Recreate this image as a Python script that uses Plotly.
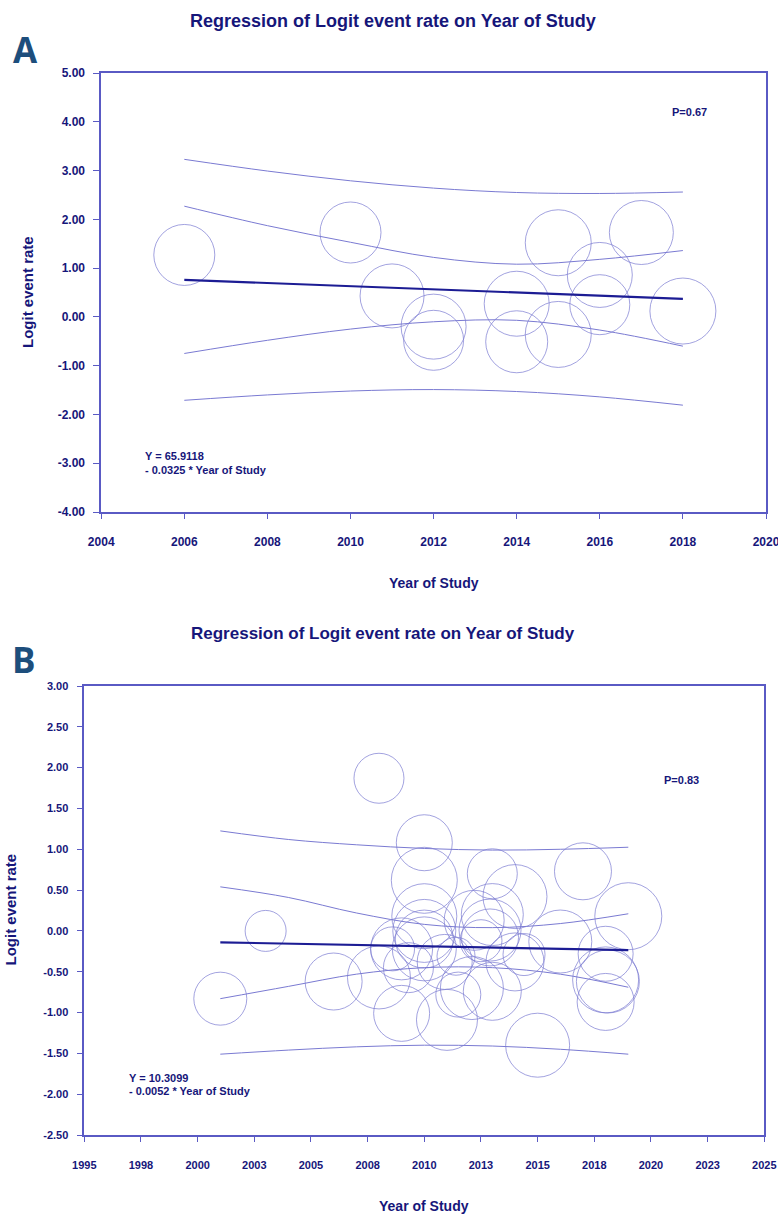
import plotly.graph_objects as go

# ---------------- Panel A data ----------------
years_A = [2006, 2010, 2011, 2012, 2012, 2014, 2014, 2015, 2015, 2016, 2016, 2017, 2018]
logit_A = [1.27, 1.73, 0.43, -0.20, -0.48, 0.27, -0.51, 1.52, -0.36, 0.86, 0.25, 1.73, 0.12]
size_A = [61, 61, 64, 65, 60, 65, 62, 66, 66, 65, 60, 64, 66]

fit_x_A = [2006, 2018]
fit_y_A = [0.76, 0.37]

ci_x_A = [2006, 2008, 2010, 2012, 2014, 2016, 2018]
outer_upper_A = [3.23, 2.99, 2.79, 2.64, 2.55, 2.53, 2.56]
inner_upper_A = [2.27, 1.87, 1.53, 1.22, 1.08, 1.18, 1.36]
inner_lower_A = [-0.75, -0.48, -0.25, -0.10, -0.07, -0.27, -0.60]
outer_lower_A = [-1.71, -1.60, -1.52, -1.49, -1.53, -1.64, -1.81]

xtick_vals_A = [2004, 2006, 2008, 2010, 2012, 2014, 2016, 2018, 2020]
xtick_text_A = ["2004", "2006", "2008", "2010", "2012", "2014", "2016", "2018", "2020"]
ytick_vals_A = [5, 4, 3, 2, 1, 0, -1, -2, -3, -4]
ytick_text_A = ["5.00", "4.00", "3.00", "2.00", "1.00", "0.00", "-1.00", "-2.00", "-3.00", "-4.00"]

# ---------------- Panel B data ----------------
years_B = [2001.0, 2003.0, 2006.0, 2008.0, 2008.0, 2008.6, 2009.0, 2009.0, 2009.3,
           2010.0, 2010.0, 2010.0, 2010.0, 2010.0, 2010.0, 2010.9, 2011.0, 2011.4,
           2011.5, 2012.1, 2012.2, 2012.5, 2012.9, 2012.9, 2013.0, 2013.0, 2013.0,
           2014.0, 2014.0, 2014.4, 2015.0, 2016.0, 2017.0, 2018.0, 2018.0, 2018.1,
           2018.0, 2019.0]
logit_B = [-0.83, 0.00, -0.62, 1.87, -0.57, -0.22, -0.22, -1.01, -0.45,
           1.08, 0.62, 0.18, 0.00, -0.22, -0.10, -0.38, -1.09, -0.31,
           -0.78, -0.70, 0.13, -0.12, 0.01, -0.08, 0.70, 0.20, -0.74,
           0.42, -0.38, -0.29, -1.40, -0.13, 0.73, -0.28, -0.60, -0.62,
           -0.87, 0.18]
size_B = [53, 41, 57, 50, 63, 44, 62, 56, 50,
          56, 66, 65, 63, 64, 58, 55, 61, 38,
          45, 63, 60, 42, 62, 57, 50, 62, 58,
          64, 58, 42, 64, 63, 57, 55, 66, 63,
          57, 67]

fit_x_B = [2001, 2019]
fit_y_B = [-0.14, -0.235]

ci_x_B = [2001, 2004, 2007, 2010, 2013, 2016, 2019]
outer_upper_B = [1.225, 1.12, 1.055, 1.01, 0.99, 1.00, 1.025]
inner_upper_B = [0.54, 0.41, 0.22, 0.08, 0.04, 0.09, 0.21]
inner_lower_B = [-0.83, -0.68, -0.53, -0.45, -0.45, -0.53, -0.69]
outer_lower_B = [-1.51, -1.46, -1.42, -1.40, -1.41, -1.45, -1.51]

xtick_vals_B = [1995, 1997.5, 2000, 2002.5, 2005, 2007.5, 2010, 2012.5, 2015, 2017.5, 2020, 2022.5, 2025]
xtick_text_B = ["1995", "1998", "2000", "2003", "2005", "2008", "2010", "2013", "2015", "2018", "2020", "2023", "2025"]
ytick_vals_B = [3, 2.5, 2, 1.5, 1, 0.5, 0, -0.5, -1, -1.5, -2, -2.5]
ytick_text_B = ["3.00", "2.50", "2.00", "1.50", "1.00", "0.50", "0.00", "-0.50", "-1.00", "-1.50", "-2.00", "-2.50"]

# ---------------- styles ----------------
W, H = 778, 1216
TXT = "#16167a"
AXC = "#5a5ac4"
CIRC = "#7a7ad2"
FITC = "#1c1c94"
LETTER = "#1d4e7c"
NARROW = "Liberation Sans Narrow, Arial Narrow, Liberation Sans, Arial, sans-serif"
SANS = "Liberation Sans, Arial, sans-serif"

fig = go.Figure()

def add_panel(xa, ya, xs, ys, sz, fx, fy, cx, ou, iu, il, ol):
    for arr in (ou, iu, il, ol):
        fig.add_trace(go.Scatter(x=cx, y=arr, mode="lines", xaxis=xa, yaxis=ya,
                                 line=dict(color=CIRC, width=1, shape="spline", smoothing=1.0),
                                 hoverinfo="skip", showlegend=False))
    fig.add_trace(go.Scatter(x=xs, y=ys, mode="markers", xaxis=xa, yaxis=ya,
                             marker=dict(symbol="circle-open", size=sz, sizemode="diameter",
                                         color=CIRC, line=dict(color=CIRC, width=1)),
                             showlegend=False))
    fig.add_trace(go.Scatter(x=fx, y=fy, mode="lines", xaxis=xa, yaxis=ya,
                             line=dict(color=FITC, width=2.2), showlegend=False))

add_panel("x", "y", years_A, logit_A, size_A, fit_x_A, fit_y_A, ci_x_A,
          outer_upper_A, inner_upper_A, inner_lower_A, outer_lower_A)
add_panel("x2", "y2", years_B, logit_B, size_B, fit_x_B, fit_y_B, ci_x_B,
          outer_upper_B, inner_upper_B, inner_lower_B, outer_lower_B)

def px_x(p):
    return p / W

def px_y(p):
    return 1 - p / H

axis_common = dict(showgrid=False, zeroline=False, showline=True, linecolor=AXC, linewidth=1.6,
                   mirror=True, ticks="outside", tickcolor=AXC, tickwidth=1.4, tickmode="array",
                   automargin=False, ticklabeloverflow="allow")

fig.update_layout(
    width=W, height=H,
    margin=dict(l=0, r=0, t=0, b=0, pad=0, autoexpand=False),
    paper_bgcolor="white", plot_bgcolor="white",
    showlegend=False,
    xaxis=dict(domain=[px_x(101.2), px_x(766)], range=[2004, 2020], anchor="y",
               tickvals=xtick_vals_A, ticktext=xtick_text_A, ticklen=5, ticklabelstandoff=13,
               tickfont=dict(family=NARROW, size=12, color=TXT, weight="bold"), **axis_common),
    yaxis=dict(domain=[px_y(512), px_y(73)], range=[-4, 5], anchor="x",
               tickvals=ytick_vals_A, ticktext=ytick_text_A, ticklen=6, ticklabelstandoff=6,
               tickfont=dict(family=NARROW, size=12, color=TXT, weight="bold"), **axis_common),
    xaxis2=dict(domain=[px_x(84.3), px_x(764.3)], range=[1995, 2025], anchor="y2",
                tickvals=xtick_vals_B, ticktext=xtick_text_B, ticklen=5, ticklabelstandoff=14,
                tickfont=dict(family=SANS, size=11, color=TXT, weight="bold"), **axis_common),
    yaxis2=dict(domain=[px_y(1135), px_y(686)], range=[-2.5, 3], anchor="x2",
                tickvals=ytick_vals_B, ticktext=ytick_text_B, ticklen=6, ticklabelstandoff=6,
                tickfont=dict(family=SANS, size=11, color=TXT, weight="bold"), **axis_common),
)

def ann(text, x, y, xref, yref, family, size, color=TXT, xanchor="center", yanchor="middle", angle=0):
    fig.add_annotation(text=text, x=x, y=y, xref=xref, yref=yref, showarrow=False,
                       xanchor=xanchor, yanchor=yanchor, textangle=angle,
                       font=dict(family=family, size=size, color=color, weight="bold"))

# Panel A texts
ann("Regression of Logit event rate on Year of Study", px_x(393), px_y(21), "paper", "paper", NARROW, 18)
ann("A", px_x(25), px_y(49), "paper", "paper", "Open Sans, Lato, sans-serif", 35, color=LETTER)
ann("P=0.67", 2017.7, 4.2, "x", "y", NARROW, 11, xanchor="left")
ann("Y = 65.9118", 2005.0, -2.86, "x", "y", NARROW, 11, xanchor="left")
ann("- 0.0325 * Year of Study", 2005.0, -3.14, "x", "y", NARROW, 11, xanchor="left")
ann("Year of Study", 0.5, px_y(583), "x domain", "paper", NARROW, 14)
ann("Logit event rate", px_x(27.5), px_y(292.5), "paper", "paper", SANS, 15, angle=-90)

# Panel B texts
ann("Regression of Logit event rate on Year of Study", px_x(383), px_y(633), "paper", "paper", SANS, 17)
ann("B", px_x(24), px_y(659), "paper", "paper", "Open Sans, Lato, sans-serif", 35, color=LETTER)
ann("P=0.83", 2020.5, 1.85, "x2", "y2", SANS, 11, xanchor="left")
ann("Y = 10.3099", 1996.87, -1.80, "x2", "y2", SANS, 11, xanchor="left")
ann("- 0.0052 * Year of Study", 1996.87, -1.96, "x2", "y2", SANS, 11, xanchor="left")
ann("Year of Study", 0.5, px_y(1206), "x2 domain", "paper", SANS, 14)
ann("Logit event rate", px_x(9.5), px_y(910), "paper", "paper", SANS, 15, angle=-90)

fig.write_html(
    "out.html",
    config={"displayModeBar": False},
    post_script="document.body.style.margin='0';document.body.style.padding='0';document.body.style.overflow='hidden';",
)
